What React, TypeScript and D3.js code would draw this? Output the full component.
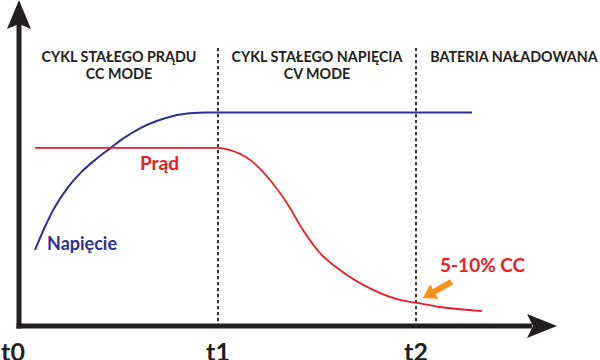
import React from "react";
import * as d3 from "d3";

// ---- data ----
const tickTimes = [0, 1, 2];
const tickLabels = ["t0", "t1", "t2"];
const phaseBoundaries = [1, 2];
const phaseCenters = [0.5, 1.5, 2.5];
const phaseTitles = [
  ["CYKL STAŁEGO PRĄDU", "CC MODE"],
  ["CYKL STAŁEGO NAPIĘCIA", "CV MODE"],
  ["BATERIA NAŁADOWANA"],
];

const voltageT = [0.076, 0.126, 0.177, 0.244, 0.312, 0.379, 0.455, 0.522, 0.606, 0.69, 0.774, 0.859, 0.943, 2.283];
const voltageV = [35.6, 46.5, 55.9, 65.2, 72.3, 77.8, 83.2, 87.9, 92.6, 96.0, 98.4, 99.6, 100, 100];

const currentT = [0.076, 0.995, 1.061, 1.162, 1.263, 1.348, 1.429, 1.515, 1.616, 1.783, 1.919, 2.005, 2.121, 2.333];
const currentV = [83.4, 83.4, 82.4, 77.8, 68.4, 57.6, 45.0, 34.2, 26.2, 16.9, 12.2, 10.8, 8.9, 7.0];

const seriesLabels = ["Napięcie", "Prąd"];
const noteLabel = "5-10% CC";
const noteArrowFrom = [2.18, 20.7];
const noteArrowTo = [2.035, 13.1];

// ---- layout ----
const W = 600;
const H = 360;
const BLUE = "#2E3192";
const RED = "#ED1C24";
const ORANGE = "#F7941D";
const INK = "#231F20";
const FONT = "Lato, 'Noto Sans', sans-serif";

export default function App() {
  const x = d3.scaleLinear().domain([0, 2]).range([20, 416]);
  const y = d3.scaleLinear().domain([0, 100]).range([326, 112.5]);

  const line = d3
    .line<[number, number]>()
    .x((d) => x(d[0]))
    .y((d) => y(d[1]))
    .curve(d3.curveMonotoneX);

  const vPts = voltageT.map((t, i) => [t, voltageV[i]] as [number, number]);
  const cPts = currentT.map((t, i) => [t, currentV[i]] as [number, number]);

  const x0 = x(0) - 1;
  const y0 = y(0);
  const xEnd = 557;

  // orange arrow polygon
  const ax1 = x(noteArrowFrom[0]), ay1 = y(noteArrowFrom[1]);
  const ax2 = x(noteArrowTo[0]), ay2 = y(noteArrowTo[1]);
  const dx = ax2 - ax1, dy = ay2 - ay1;
  const len = Math.hypot(dx, dy);
  const ux = dx / len, uy = dy / len;
  const px = -uy, py = ux;
  const headL = 13, headW = 8.5, shaftW = 3;
  const bx = ax2 - ux * headL, by = ay2 - uy * headL;
  const arrowPts = [
    [ax1 + px * shaftW, ay1 + py * shaftW],
    [bx + px * shaftW, by + py * shaftW],
    [bx + px * headW, by + py * headW],
    [ax2, ay2],
    [bx - px * headW, by - py * headW],
    [bx - px * shaftW, by - py * shaftW],
    [ax1 - px * shaftW, ay1 - py * shaftW],
  ];

  return (
    <svg
      width={W}
      height={H}
      viewBox={`0 0 ${W} ${H}`}
      style={{ position: "absolute", left: 0, top: 0, background: "#fff" }}
    >
      <rect width={W} height={H} fill="#fff" />

      {/* phase boundaries */}
      {phaseBoundaries.map((t) => (
        <line
          key={t}
          x1={x(t)}
          x2={x(t)}
          y1={48}
          y2={y0}
          stroke={INK}
          strokeWidth={1.8}
          strokeDasharray="3.2 2.8"
        />
      ))}

      {/* phase titles */}
      {phaseTitles.map((lines, i) => (
        <text
          key={i}
          x={x(phaseCenters[i]) - (i === 2 ? 1 : 0)}
          y={62}
          textAnchor="middle"
          fontFamily={FONT}
          fontWeight={700}
          fontSize={14.3}
          fill={INK}
        >
          {lines.map((l, j) => (
            <tspan key={j} x={x(phaseCenters[i]) - (i === 2 ? 1 : 0)} dy={j === 0 ? 0 : 17}>
              {l}
            </tspan>
          ))}
        </text>
      ))}

      {/* series */}
      <path d={line(vPts) || ""} fill="none" stroke={BLUE} strokeWidth={2} />
      <path d={line(cPts) || ""} fill="none" stroke={RED} strokeWidth={1.8} />

      {/* series labels */}
      <text x={47} y={250} fontFamily={FONT} fontWeight={700} fontSize={18} fill={BLUE}>
        {seriesLabels[0]}
      </text>
      <text x={140} y={170} fontFamily={FONT} fontWeight={700} fontSize={19} fill={RED}>
        {seriesLabels[1]}
      </text>
      <text x={440} y={272} fontFamily={FONT} fontWeight={700} fontSize={19} fill={RED}>
        {noteLabel}
      </text>
      <polygon points={arrowPts.map((p) => p.join(",")).join(" ")} fill={ORANGE} />

      {/* axes */}
      <line x1={x0} x2={x0} y1={22} y2={y0 + 2.5} stroke={INK} strokeWidth={5} />
      <line x1={x0 - 2.5} x2={xEnd - 25} y1={y0} y2={y0} stroke={INK} strokeWidth={5} />
      <path
        d={`M${x0},0 L${x0 + 12},29 L${x0},24 L${x0 - 12},29 Z`}
        fill={INK}
      />
      <path
        d={`M${xEnd},${y0} L${xEnd - 30},${y0 - 12} L${xEnd - 24},${y0} L${xEnd - 30},${y0 + 12} Z`}
        fill={INK}
      />

      {/* tick labels */}
      {tickTimes.map((t, i) => (
        <text
          key={t}
          x={x(t) + (i === 0 ? -7 : 0)}
          y={361}
          textAnchor="middle"
          fontFamily={FONT}
          fontWeight={700}
          fontSize={25}
          fill={INK}
        >
          {tickLabels[i]}
        </text>
      ))}
    </svg>
  );
}
